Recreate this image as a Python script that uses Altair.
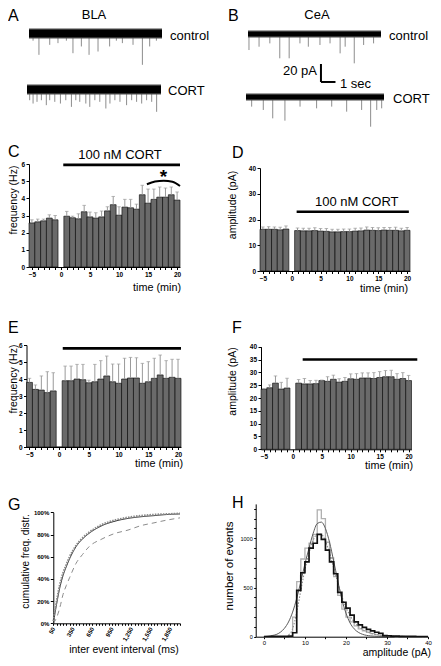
import altair as alt
import pandas as pd

FONT = "Liberation Sans"
W, H = 425, 650

# ---------------- data ----------------
# A / B example traces: event times (s) and event amplitudes (pA, downward)
a_ctrl_t = [0.29, 0.71, 1.48, 2.07, 2.67, 3.14, 3.74, 4.29, 4.93, 5.76, 6.24, 6.67, 7.43, 8.10, 8.62, 9.10]
a_ctrl_a = [8, 23.7, 12.6, 10.7, 8, 21.9, 14.4, 23.7, 20, 14.4, 8, 10.7, 12.6, 34.8, 14.4, 8]
a_cort_t = [0.19, 0.43, 0.71, 1.02, 1.37, 1.61, 1.97, 2.37, 2.75, 3.15, 3.46, 3.74, 4.17, 4.45,
            4.81, 5.16, 5.59, 5.88, 6.23, 6.59, 7.06, 7.42, 7.77, 8.13, 8.48, 8.84, 9.19]
a_cort_a = [11.9, 15.6, 13.7, 11.9, 17.4, 11.9, 13.7, 15.6, 11.9, 19.3, 11.9, 13.7, 15.6, 19.3,
            11.9, 13.7, 21.1, 15.6, 11.9, 13.7, 17.4, 11.9, 13.7, 15.6, 11.9, 13.7, 24.8]
b_ctrl_t = [0.07, 0.79, 1.56, 2.27, 2.94, 3.71, 4.31, 5.14, 5.86, 6.58, 6.94, 7.59, 8.26, 8.97]
b_ctrl_a = [17.8, 14.1, 10.4, 27, 27, 10.4, 14.1, 12.2, 10.4, 21.5, 14.1, 32.6, 12.2, 10.4]
b_cort_t = [0.39, 1.19, 1.84, 2.68, 3.72, 4.86, 5.90, 6.93, 7.96, 8.58, 9.0, 9.34]
b_cort_a = [10.7, 14.4, 23.7, 26.3, 10.7, 12.6, 10.7, 16.3, 14.4, 33, 14.4, 12.6]
scale_pa = 20   # pA
scale_s = 1     # sec

minutes = list(range(-5, 0)) + list(range(1, 21))

# C: BLA frequency (Hz)
c_pre = [2.57, 2.63, 2.69, 2.85, 2.75]
c_pre_err = [0.18, 0.16, 0.10, 0.19, 0.25]
c_post = [2.96, 2.87, 2.81, 3.22, 2.92, 2.85, 2.92, 3.27, 3.63, 3.02,
          3.49, 3.45, 3.37, 4.21, 3.72, 3.94, 4.07, 4.07, 4.21, 3.90]
c_post_err = [0.28, 0.09, 0.29, 0.37, 0.28, 0.31, 0.34, 0.24, 0.48, 0.49,
              0.45, 0.49, 0.29, 0.55, 0.82, 0.60, 0.59, 0.53, 0.45, 0.47]
# D: BLA amplitude (pA)
d_pre = [16.2, 16.2, 16.2, 16.0, 16.3]
d_pre_err = [0.9, 1.0, 0.9, 1.0, 1.2]
d_post = [15.7, 15.6, 15.6, 15.7, 15.5, 15.4, 15.2, 15.2, 15.3, 15.3,
          15.5, 15.6, 15.9, 15.8, 15.7, 15.9, 15.8, 15.8, 15.6, 15.8]
d_post_err = [1.0, 1.0, 1.0, 1.1, 1.0, 1.1, 1.0, 1.0, 1.0, 1.0,
              1.1, 1.1, 1.2, 1.1, 1.1, 1.0, 1.1, 1.2, 1.0, 1.1]
# E: CeA frequency (Hz)
e_pre = [3.80, 3.39, 3.35, 3.20, 3.30]
e_pre_err = [0.24, 0.26, 0.83, 1.23, 1.07]
e_post = [3.90, 3.90, 4.00, 3.96, 3.78, 3.84, 4.00, 4.18, 3.84, 3.75,
          4.00, 4.06, 4.06, 3.75, 3.84, 4.04, 4.24, 4.04, 4.10, 4.04]
e_post_err = [0.86, 0.86, 0.86, 0.90, 0.15, 1.02, 1.08, 1.17, 1.04, 1.13,
              1.22, 1.21, 1.19, 1.17, 1.18, 1.18, 1.17, 1.04, 1.06, 1.12]
# F: CeA amplitude (pA)
f_pre = [23.4, 24.0, 25.8, 23.5, 23.9]
f_pre_err = [0.3, 1.1, 2.8, 2.6, 3.8]
f_post = [25.8, 25.5, 25.5, 25.6, 26.8, 26.5, 27.3, 26.2, 26.5, 27.5,
          27.3, 27.8, 27.8, 27.6, 28.0, 28.3, 28.3, 27.3, 27.6, 26.8]
f_post_err = [1.4, 2.1, 1.3, 1.3, 0.2, 1.8, 1.6, 1.3, 1.5, 1.9,
              2.2, 2.0, 2.0, 2.3, 2.3, 2.4, 2.5, 2.2, 2.3, 2.0]

# G: cumulative inter-event interval distributions
g_ms = [50, 100, 150, 200, 250, 300, 400, 500, 600, 800, 1000, 1200, 1400, 1600, 1800, 2000]
g_solid = [0, 17, 32, 43, 51, 58, 69, 76, 81, 88, 92, 94.5, 96, 97, 98, 98.5]
g_dotted = [2, 20, 35, 45.5, 53, 60, 70, 77, 82, 89, 93, 95.5, 97, 98, 98.5, 99]
g_dashed = [0, 5, 14, 26, 34, 41, 54, 62, 69, 76, 81, 84, 88, 90.5, 93, 95]

# H: amplitude histograms (1 pA bins from 0 to 40) and fitted curves
h_bins = list(range(0, 40))
h_black = [2, 2, 3, 3, 4, 4, 6, 40, 470, 650, 760, 900, 950, 1040, 990, 880, 760, 640, 450, 350,
           290, 220, 150, 120, 95, 75, 60, 45, 35, 10, 8, 6, 5, 4, 4, 3, 3, 2, 2, 2]
h_grey = [0, 0, 0, 0, 0, 0, 0, 200, 560, 790, 900, 950, 1040, 1290, 1200, 960, 800, 610, 420, 280,
          200, 150, 110, 80, 60, 45, 32, 22, 15, 8, 5, 3, 2, 2, 1, 1, 1, 0, 0, 0]
h_fit_x = [0, 2, 3, 4, 5, 6, 7, 8, 9, 10, 11, 12, 13, 14, 15, 16, 17, 18, 19, 20, 21, 22, 23, 24, 26, 28, 30]
h_fit_y = [2, 12, 22, 45, 85, 150, 250, 390, 560, 740, 900, 1050, 1150, 1165, 1100, 960, 770, 570, 380,
           240, 140, 80, 45, 25, 8, 3, 1]
h_dot_x = [6, 7, 8, 9, 10, 11, 12, 13, 14, 15, 16, 17, 18, 19, 20, 21, 22, 24, 26, 28, 30, 34, 40]
h_dot_y = [20, 80, 250, 470, 680, 850, 980, 1040, 1040, 970, 850, 700, 550, 410, 300, 215, 150, 75, 35,
           18, 9, 3, 1]


# ---------------- helpers ----------------
def axis_style(**kw):
    base = dict(domainColor='black', domainWidth=1, tickColor='black', tickWidth=1, tickSize=3,
                labelFont=FONT, labelFontSize=6.5, labelFontWeight='bold', labelColor='black',
                labelPadding=1.5, grid=False, title=None, labelFlush=False, labelOverlap=False)
    base.update(kw)
    return alt.Axis(**base)


def label(s, x, y, size=11, align='left', baseline='middle', angle=0, weight='normal'):
    return alt.Chart(pd.DataFrame({'s': [s]})).mark_text(
        align=align, baseline=baseline, fontSize=size, font=FONT, angle=angle,
        fontWeight=weight, color='black').encode(x=alt.value(x), y=alt.value(y), text='s:N')


def trace(times, amps, xr, yc, half, bar=False):
    xs = alt.Scale(domain=[0, 9.5], range=xr, nice=False, zero=False)
    ys = alt.Scale(domain=[-40, 40], range=[yc + 36, yc - 36], nice=False, zero=False)

    def X(f):
        return alt.X(f, type='quantitative', scale=xs, axis=None)

    def Y(f):
        return alt.Y(f, type='quantitative', scale=ys, axis=None)

    bdf = pd.DataFrame({'x0': [0.0], 'x1': [9.5], 'lo': [-half], 'hi': [half]})
    fuzz = alt.Chart(bdf).transform_calculate(lo2='datum.lo - 1.4', hi2='datum.hi + 1.4').mark_rect(
        color='#4a4a4a').encode(x=X('x0'), x2='x1', y=Y('lo2'), y2='hi2')
    band = alt.Chart(bdf).mark_rect(color='black').encode(x=X('x0'), x2='x1', y=Y('lo'), y2='hi')
    sdf = pd.DataFrame({'t': times, 'a': amps})
    spikes = alt.Chart(sdf).transform_calculate(neg='-datum.a').mark_rule(
        color='#707070', strokeWidth=0.8).encode(x=X('t'), y=Y('neg'), y2=alt.datum(0))
    layers = [spikes, fuzz, band]
    if bar:
        v0, h0 = 5.16, 16.7
        vdf = pd.DataFrame({'t': [v0], 'y0': [h0], 'y1': [h0 + scale_pa]})
        hdf = pd.DataFrame({'t0': [v0], 't1': [v0 + scale_s], 'y': [h0]})
        vbar = alt.Chart(vdf).mark_rule(color='black', strokeWidth=2).encode(x=X('t'), y=Y('y0'), y2='y1')
        hbar = alt.Chart(hdf).mark_rule(color='black', strokeWidth=2).encode(x=X('t0'), x2='t1', y=Y('y'))
        layers += [vbar, hbar]
    return alt.layer(*layers)


def bar_panel(pre, pre_err, post, post_err, xr, ydom, yr, yvals, line_x, line_y, zero_bar=False, extra=None):
    t = list(minutes)
    v = pre + post
    e = pre_err + post_err
    if zero_bar:
        t = t + [0]
        v = v + [0]
        e = e + [0]
    df = pd.DataFrame({'t': t, 'v': v, 'e': e})
    xs = alt.Scale(domain=[-5.5, 20.5], range=xr, nice=False, zero=False)
    ys = alt.Scale(domain=ydom, range=yr, nice=False, zero=False)
    xa = axis_style(orient='bottom', offset=yr[0] - H, values=list(range(-5, 21)),
                    labelExpr="datum.value % 5 === 0 ? datum.label : ''", tickSize=2.5)
    ya = axis_style(orient='left', offset=-xr[0], values=yvals)

    def X(f):
        return alt.X(f, type='quantitative', scale=xs, axis=xa)

    def Y(f):
        return alt.Y(f, type='quantitative', scale=ys, axis=ya)

    base = alt.Chart(df).transform_calculate(x0='datum.t - 0.5', x1='datum.t + 0.5', top='datum.v + datum.e')
    bars = base.mark_bar(color='#6a6a6a', stroke='black', strokeWidth=0.6).encode(
        x=X('x0'), x2='x1', y=Y('v'), y2=alt.datum(0))
    err = base.transform_filter('datum.e > 0').mark_rule(color='#9a9a9a', strokeWidth=1).encode(
        x=X('t'), y=Y('v'), y2='top')
    cap = base.transform_filter('datum.e > 0').mark_tick(orient='horizontal', size=3.5, thickness=1,
                                                         color='#9a9a9a').encode(x=X('t'), y=Y('top'))
    ldf = pd.DataFrame({'x0': [line_x[0]], 'x1': [line_x[1]], 'y': [line_y]})
    line = alt.Chart(ldf).mark_rule(color='black', strokeWidth=2.6).encode(x=X('x0'), x2='x1', y=Y('y'))
    layers = [bars, err, cap, line]
    if extra is not None:
        adf = pd.DataFrame({'t': extra[0], 'y': extra[1]})
        arc = alt.Chart(adf).mark_line(color='black', strokeWidth=2, interpolate='monotone').encode(
            x=X('t'), y=Y('y'))
        layers.append(arc)
    return alt.layer(*layers)


# ---------------- traces ----------------
trA1 = trace(a_ctrl_t, a_ctrl_a, [21, 154], 25.5, 4.2)
trA2 = trace(a_cort_t, a_cort_a, [19, 153], 81.5, 4.2)
trB1 = trace(b_ctrl_t, b_ctrl_a, [240, 373], 26, 2.6)
trB2 = trace(b_cort_t, b_cort_a, [238, 376], 89, 2.6, bar=True)

# ---------------- bar panels ----------------
pC = bar_panel(c_pre, c_pre_err, c_post, c_post_err, [21, 172], [0, 6], [259, 156],
               [0, 1, 2, 3, 4, 5, 6], [0.4, 20.5], 5.95,
               extra=([14.8, 16.2, 17.7, 19.2, 20.5], [4.82, 4.98, 5.03, 4.97, 4.72]))
pD = bar_panel(d_pre, d_pre_err, d_post, d_post_err, [252, 402], [0, 40], [263, 160],
               [0, 10, 20, 30, 40], [0.85, 20.3], 23)
pE = bar_panel(e_pre, e_pre_err, e_post, e_post_err, [18.5, 173], [0, 6], [439, 337],
               [0, 1, 2, 3, 4, 5, 6], [0.6, 20.5], 5.8, zero_bar=True)
pF = bar_panel(f_pre, f_pre_err, f_post, f_post_err, [253, 403.5], [0, 40], [441.3, 338.7],
               [0, 5, 10, 15, 20, 25, 30, 35, 40], [1.7, 21.5], 35)

# ---------------- G ----------------
g_rows = []
for name, vals in (('solid', g_solid), ('dotted', g_dotted), ('dashed', g_dashed)):
    for m, p in zip(g_ms, vals):
        g_rows.append({'ms': m, 'p': p / 100.0, 's': name})
gdf = pd.DataFrame(g_rows)
gxs = alt.Scale(domain=[50, 2000], range=[45.3, 172], nice=False, zero=False)
gys = alt.Scale(domain=[0, 1], range=[615.3, 504.3], nice=False, zero=False)
gxa = axis_style(orient='bottom', offset=615.3 - H, values=list(range(50, 2001, 50)),
                 labelExpr="(datum.value - 50) % 300 === 0 ? format(datum.value, ',') : ''",
                 labelAngle=300, labelAlign='right', labelBaseline='middle', tickSize=2,
                 labelFontSize=6, labelPadding=2)
gya = axis_style(orient='left', offset=-45.3, values=[0, 0.2, 0.4, 0.6, 0.8, 1.0], format='.0%',
                 labelFontSize=6)


def gline(name, color, dash, width):
    return alt.Chart(gdf).transform_filter(f"datum.s == '{name}'").mark_line(
        color=color, strokeDash=dash, strokeWidth=width, interpolate='monotone').encode(
        x=alt.X('ms', type='quantitative', scale=gxs, axis=gxa),
        y=alt.Y('p', type='quantitative', scale=gys, axis=gya))


pG = alt.layer(gline('dashed', '#8c8c8c', [5, 4], 1),
               gline('solid', '#222222', [1, 0], 1),
               gline('dotted', '#8a8a8a', [1.5, 1.2], 1.8))

# ---------------- H ----------------
hxs = alt.Scale(domain=[-2, 40], range=[247.7, 420], nice=False, zero=False)
hys = alt.Scale(domain=[0, 1350], range=[628.7, 495.9], nice=False, zero=False)
hxa = axis_style(orient='bottom', offset=628.7 - H, values=list(range(0, 41, 5)),
                 labelExpr="datum.value % 10 === 0 ? datum.label : ''", labelFontSize=6,
                 labelFontWeight='normal', labelPadding=1, tickSize=2)
hya = axis_style(orient='left', offset=-247.7, values=list(range(0, 1301, 100)), format='d',
                 labelExpr="datum.value % 500 === 0 ? datum.label : ''", tickSize=2, labelFontSize=5.5,
                 labelFontWeight='normal')


def HX(f):
    return alt.X(f, type='quantitative', scale=hxs, axis=hxa)


def HY(f):
    return alt.Y(f, type='quantitative', scale=hys, axis=hya)


hist_black = pd.DataFrame({'x': h_bins + [40], 'y': h_black + [h_black[-1]]})
hist_grey = pd.DataFrame({'x': h_bins + [40], 'y': h_grey + [h_grey[-1]]})
fit_df = pd.DataFrame({'x': h_fit_x, 'y': h_fit_y})
dot_df = pd.DataFrame({'x': h_dot_x, 'y': h_dot_y})

pH = alt.layer(
    alt.Chart(hist_grey).mark_line(color='#b0b0b0', strokeWidth=1.3, interpolate='step-after').encode(
        x=HX('x'), y=HY('y')),
    alt.Chart(dot_df).mark_line(color='#8a8a8a', strokeWidth=1.1, strokeDash=[1.5, 1.5],
                                interpolate='monotone').encode(x=HX('x'), y=HY('y')),
    alt.Chart(fit_df).mark_line(color='#5a5a5a', strokeWidth=1, interpolate='monotone').encode(
        x=HX('x'), y=HY('y')),
    alt.Chart(hist_black).mark_line(color='#111111', strokeWidth=1.7, interpolate='step-after').encode(
        x=HX('x'), y=HY('y')),
)

# ---------------- text ----------------
texts = [
    label('A', 0, 13, 16, baseline='alphabetic'),
    label('BLA', 86, 1, 13, align='center', baseline='top'),
    label('B', 220, 13, 16, baseline='alphabetic'),
    label('CeA', 309, 1, 13, align='center', baseline='top'),
    label('control', 162, 28, 13),
    label('CORT', 160, 83, 13),
    label('control', 381, 28, 13),
    label('CORT', 385, 91, 13),
    label('20 pA', 309, 63, 13, align='right'),
    label('1 sec', 332, 76, 13),
    label('C', 0, 149, 16, baseline='alphabetic'),
    label('100 nM CORT', 112, 147, 13, align='center'),
    label('*', 155.5, 175, 19, align='center', baseline='alphabetic', weight='bold'),
    label('frequency (Hz)', 5.5, 192, 10.5, align='center', angle=270),
    label('time (min)', 173, 280, 10.8, align='right'),
    label('D', 224, 150, 16, baseline='alphabetic'),
    label('100 nM CORT', 348.7, 194, 13, align='center'),
    label('amplitude (pA)', 225, 197, 10.5, align='center', angle=270),
    label('time (min)', 400, 281, 10.8, align='right'),
    label('E', 0, 325, 16, baseline='alphabetic'),
    label('frequency (Hz)', 5.5, 371, 10.5, align='center', angle=270),
    label('time (min)', 175, 456, 10.8, align='right'),
    label('F', 224, 325, 16, baseline='alphabetic'),
    label('amplitude (pA)', 225, 373.5, 10.5, align='center', angle=270),
    label('time (min)', 405, 458, 10.8, align='right'),
    label('G', 0, 502, 16, baseline='alphabetic'),
    label('cumulative freq. distr.', 18, 553.5, 10, align='center', angle=270),
    label('inter event interval (ms)', 116, 642, 10.5, align='center'),
    label('H', 224, 500, 16, baseline='alphabetic'),
    label('number of events', 222, 558, 11.5, align='center', angle=270),
    label('amplitude (pA)', 423, 647.5, 10.5, align='right', baseline='alphabetic'),
]

chart = alt.layer(trA1, trA2, trB1, trB2, pC, pD, pE, pF, pG, pH, *texts).resolve_scale(
    x='independent', y='independent'
).properties(
    width=W, height=H, padding=0, autosize=alt.AutoSizeParams(type='none')
).configure_view(strokeWidth=0)

chart.save("out.html", embed_options={"renderer": "svg", "actions": False})
